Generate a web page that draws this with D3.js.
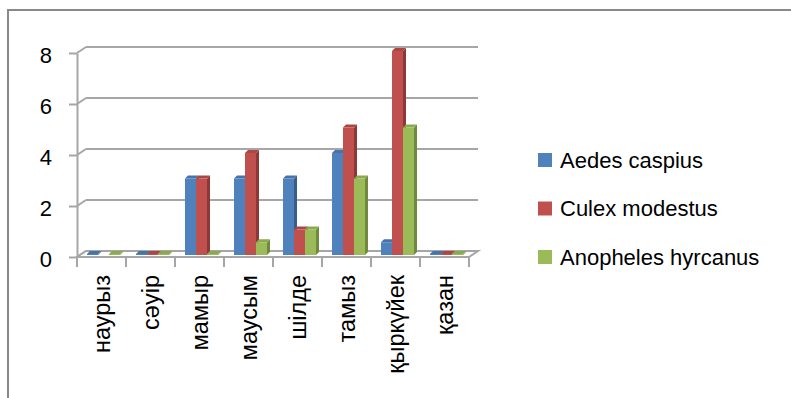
<!DOCTYPE html>
<html>
<head>
<meta charset="utf-8">
<script src="https://cdn.jsdelivr.net/npm/d3@7"></script>
<style>
  body { margin: 0; background: #ffffff; }
  svg { display: block; font-family: "Liberation Sans", Arial, sans-serif; }
</style>
</head>
<body>
<div id="chart"></div>
<script>
// chart data
const months = ['наурыз', 'сәуір', 'мамыр', 'маусым', 'шілде', 'тамыз', 'қыркүйек', 'қазан'];
const seriesNames = ['Aedes caspius', 'Culex modestus', 'Anopheles hyrcanus'];
const aedes = [0, 0, 3, 3, 3, 4, 0.5, 0];
const culex = [null, 0, 3, 4, 1, 5, 8, 0];
const anopheles = [0, 0, 0, 0.5, 1, 3, 5, 0];
const yTicks = [0, 2, 4, 6, 8];

const colors = ['#4F81BD', '#C0504D', '#9BBB59'];
const sideColors = ['#385D8A', '#8C3836', '#71893F'];
const topColors = ['#4673AB', '#AD4643', '#8BAA4E'];

const width = 791, height = 398;
const gridColor = '#a6a6a6';

// depth offset of the back wall
const wallDx = 9, wallDy = -6;
// depth of each bar
const barDx = 3, barDy = -3;

const svg = d3.select('#chart').append('svg')
    .attr('width', width)
    .attr('height', height);

// chart frame
svg.append('rect')
    .attr('x', 8).attr('y', 10)
    .attr('width', width + 10).attr('height', height + 10)
    .attr('fill', 'none')
    .attr('stroke', '#898989')
    .attr('stroke-width', 2);

const x = d3.scaleBand().domain(months).range([77, 469]);
const y = d3.scaleLinear().domain([0, 8]).range([257, 53]);
const x1 = d3.scaleBand().domain(seriesNames).range([0, 33]);

const x0 = x.range()[0], xEnd = x.range()[1];

// back wall gridlines and side diagonals
const walls = svg.append('g');
yTicks.forEach(t => {
    walls.append('line')
        .attr('x1', x0 + wallDx).attr('x2', xEnd + wallDx)
        .attr('y1', y(t) + wallDy).attr('y2', y(t) + wallDy)
        .attr('stroke', gridColor).attr('stroke-width', 2);
    walls.append('line')
        .attr('x1', x0).attr('x2', x0 + wallDx)
        .attr('y1', y(t)).attr('y2', y(t) + wallDy)
        .attr('stroke', gridColor).attr('stroke-width', 2);
});

// floor
walls.append('path')
    .attr('d', `M${x0},${y(0)} L${xEnd},${y(0)} L${xEnd + wallDx},${y(0) + wallDy} L${x0 + wallDx},${y(0) + wallDy} Z`)
    .attr('fill', '#ffffff')
    .attr('stroke', gridColor)
    .attr('stroke-width', 2);

// y axis
const yAxis = svg.append('g')
    .attr('transform', `translate(${x0},0)`)
    .call(d3.axisLeft(y).tickValues(yTicks).tickSize(8).tickSizeOuter(0).tickPadding(17));
yAxis.select('.domain').attr('stroke', gridColor).attr('stroke-width', 2);
yAxis.selectAll('.tick line').attr('stroke', gridColor).attr('stroke-width', 2);
yAxis.selectAll('.tick text')
    .attr('font-size', 22)
    .attr('font-family', '"Liberation Sans", Arial, sans-serif')
    .attr('fill', '#000')
    .attr('dy', '0.45em');

// x axis ticks at category boundaries
const bounds = months.map(m => x(m)).concat([xEnd]);
svg.append('g').selectAll('line')
    .data(bounds)
    .enter().append('line')
    .attr('x1', d => d).attr('x2', d => d)
    .attr('y1', y(0)).attr('y2', y(0) + 10)
    .attr('stroke', gridColor).attr('stroke-width', 2);

// x labels
svg.append('g').selectAll('text')
    .data(months)
    .enter().append('text')
    .attr('transform', d => `translate(${x(d) + x.bandwidth() / 2},275) rotate(-90)`)
    .attr('text-anchor', 'end')
    .attr('dy', '0.35em')
    .attr('font-size', 23.5)
    .attr('fill', '#000')
    .text(d => d);

// bars
const series = [aedes, culex, anopheles];
const bars = [];
months.forEach((m, i) => {
    series.forEach((vals, s) => {
        if (vals[i] === null) return;
        bars.push({ month: m, s: s, value: vals[i] });
    });
});

const groupOffset = (x.bandwidth() - x1.range()[1]) / 2 + 2;
const barLift = -2;
const barG = svg.append('g');

bars.forEach(d => {
    const bx = x(d.month) + groupOffset + x1(seriesNames[d.s]);
    const bw = x1.bandwidth();
    const by0 = y(0) + barLift;
    const by = Math.min(y(d.value) + barLift, by0 - 1);
    const g = barG.append('g');
    // side
    g.append('path')
        .attr('d', `M${bx + bw},${by} L${bx + bw + barDx},${by + barDy} L${bx + bw + barDx},${by0 + barDy} L${bx + bw},${by0} Z`)
        .attr('fill', sideColors[d.s]);
    // top
    g.append('path')
        .attr('d', `M${bx},${by} L${bx + barDx},${by + barDy} L${bx + bw + barDx},${by + barDy} L${bx + bw},${by} Z`)
        .attr('fill', topColors[d.s]);
    // front
    g.append('rect')
        .attr('x', bx).attr('y', by)
        .attr('width', bw).attr('height', by0 - by)
        .attr('fill', colors[d.s]);
});

// legend
const legend = svg.append('g');
seriesNames.forEach((name, i) => {
    const ly = 160 + i * 48.5;
    legend.append('rect')
        .attr('x', 538).attr('y', ly - 7)
        .attr('width', 14).attr('height', 14)
        .attr('fill', colors[i]);
    legend.append('text')
        .attr('x', 560).attr('y', ly)
        .attr('dy', '0.35em')
        .attr('font-size', 22)
        .attr('fill', '#000')
        .text(name);
});
</script>
</body>
</html>
